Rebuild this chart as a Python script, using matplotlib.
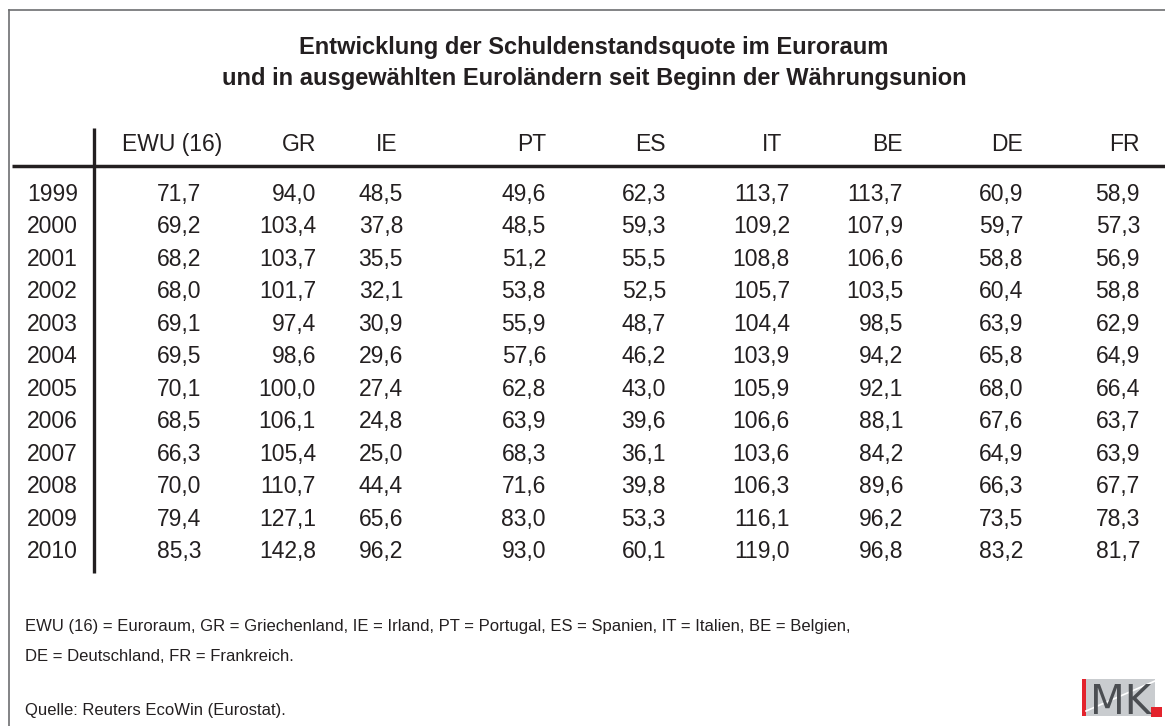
import matplotlib.pyplot as plt
from matplotlib.patches import Rectangle

plt.rcParams['font.family'] = ['Liberation Sans', 'DejaVu Sans']

title_lines = ["Entwicklung der Schuldenstandsquote im Euroraum",
               "und in ausgewählten Euroländern seit Beginn der Währungsunion"]
columns = ["EWU (16)", "GR", "IE", "PT", "ES", "IT", "BE", "DE", "FR"]
years = [1999, 2000, 2001, 2002, 2003, 2004, 2005, 2006, 2007, 2008, 2009, 2010]

ewu = [71.7, 69.2, 68.2, 68.0, 69.1, 69.5, 70.1, 68.5, 66.3, 70.0, 79.4, 85.3]
gr = [94.0, 103.4, 103.7, 101.7, 97.4, 98.6, 100.0, 106.1, 105.4, 110.7, 127.1, 142.8]
ie = [48.5, 37.8, 35.5, 32.1, 30.9, 29.6, 27.4, 24.8, 25.0, 44.4, 65.6, 96.2]
pt = [49.6, 48.5, 51.2, 53.8, 55.9, 57.6, 62.8, 63.9, 68.3, 71.6, 83.0, 93.0]
es = [62.3, 59.3, 55.5, 52.5, 48.7, 46.2, 43.0, 39.6, 36.1, 39.8, 53.3, 60.1]
it = [113.7, 109.2, 108.8, 105.7, 104.4, 103.9, 105.9, 106.6, 103.6, 106.3, 116.1, 119.0]
be = [113.7, 107.9, 106.6, 103.5, 98.5, 94.2, 92.1, 88.1, 84.2, 89.6, 96.2, 96.8]
de = [60.9, 59.7, 58.8, 60.4, 63.9, 65.8, 68.0, 67.6, 64.9, 66.3, 73.5, 83.2]
fr = [58.9, 57.3, 56.9, 58.8, 62.9, 64.9, 66.4, 63.7, 63.9, 67.7, 78.3, 81.7]

footnotes = ["EWU (16) = Euroraum, GR = Griechenland, IE = Irland, PT = Portugal, ES = Spanien, IT = Italien, BE = Belgien,",
             "DE = Deutschland, FR = Frankreich."]
source = "Quelle: Reuters EcoWin (Eurostat)."

series = [ewu, gr, ie, pt, es, it, be, de, fr]
val_right = [201, 316, 403, 546, 666, 790, 903, 1023, 1140]
head_right = [222, 316, 398, 546, 666, 782, 903, 1023, 1140]
txt = '#231f20'

fig = plt.figure(figsize=(11.65, 7.26), dpi=100)
ax = fig.add_axes([0, 0, 1, 1])
ax.set_xlim(0, 1165)
ax.set_ylim(726, 0)
ax.axis('off')

# frame
ax.plot([8.5, 1165], [9.5, 9.5], color='#6d6e71', lw=1.2)
ax.plot([8.5, 8.5], [9.5, 726], color='#6d6e71', lw=1.2)

for i, line in enumerate(title_lines):
    ax.text(594, 54 + i * 31, line, ha='center', va='baseline',
            fontsize=17, fontweight='bold', color=txt)

# table rules
ax.plot([12, 1165], [166, 166], color=txt, lw=2.5, solid_capstyle='butt')
ax.plot([94, 94], [128, 573], color=txt, lw=2.4, solid_capstyle='butt')

for name, x in zip(columns, head_right):
    ax.text(x, 151, name, ha='right', va='baseline', fontsize=16.5, color=txt)

row_gap = (558.3 - 201) / 11
for r, yr in enumerate(years):
    yb = 201 + r * row_gap
    ax.text(27, yb, str(yr), ha='left', va='baseline', fontsize=16.5, color=txt)
    for vals, x in zip(series, val_right):
        s = f"{vals[r]:.1f}".replace('.', ',')
        ax.text(x, yb, s, ha='right', va='baseline', fontsize=16.5, color=txt)

ax.text(25, 630.7, footnotes[0], ha='left', va='baseline', fontsize=12, color=txt)
ax.text(25, 660.7, footnotes[1], ha='left', va='baseline', fontsize=12, color=txt)
ax.text(25, 715, source, ha='left', va='baseline', fontsize=12, color=txt)

# IMK logo
ax.add_patch(Rectangle((1081.5, 679), 73.5, 36.5, color='#c9cccf', lw=0))
ax.add_patch(Rectangle((1081.5, 679), 4.5, 36.5, color='#e3232c', lw=0))
ax.plot([1086, 1155], [711, 681], color='white', lw=1.2)
ax.text(1120.5, 714, "MK", ha='center', va='baseline', fontsize=29,
        color='#4b4e52', family='Liberation Sans Narrow')
ax.add_patch(Rectangle((1151, 706.5), 11, 10.5, color='#e3232c', lw=0))

fig.savefig('out.png', dpi=100, facecolor='white')
